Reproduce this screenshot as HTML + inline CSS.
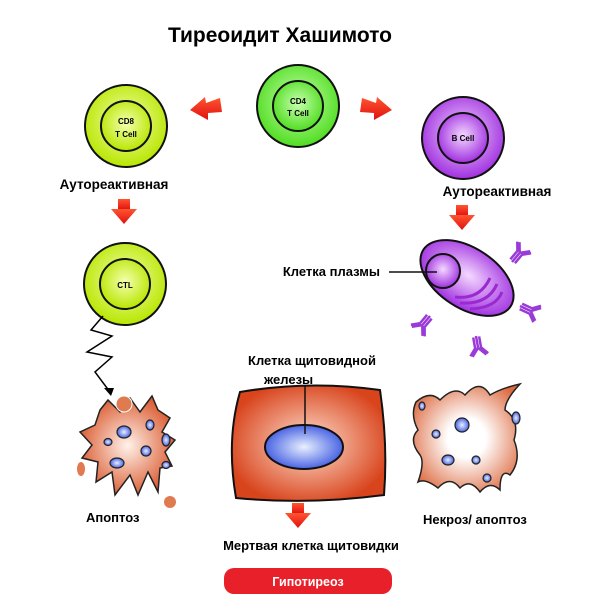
<!DOCTYPE html>
<html><head><meta charset="utf-8"><style>
body{margin:0;background:#fff}
svg{display:block}
text{font-family:"Liberation Sans","Noto Sans CJK SC",sans-serif;font-weight:bold}
</style></head><body>
<svg width="600" height="600" viewBox="0 0 600 600" xmlns="http://www.w3.org/2000/svg">
<defs>
<radialGradient id="yg" cx="50%" cy="45%" r="55%"><stop offset="0" stop-color="#f4ffb0"/><stop offset="1" stop-color="#b8e600"/></radialGradient>
<radialGradient id="gg" cx="50%" cy="45%" r="55%"><stop offset="0" stop-color="#c8ffb0"/><stop offset="1" stop-color="#50dd20"/></radialGradient>
<radialGradient id="pg" cx="50%" cy="45%" r="55%"><stop offset="0" stop-color="#f4d8ff"/><stop offset="1" stop-color="#a030e0"/></radialGradient>
<radialGradient id="og" cx="50%" cy="50%" r="55%"><stop offset="0" stop-color="#fff2ea"/><stop offset="1" stop-color="#d9552a"/></radialGradient>
<radialGradient id="og2" cx="50%" cy="50%" r="60%"><stop offset="0.3" stop-color="#fff"/><stop offset="1" stop-color="#dd6a40"/></radialGradient>
<radialGradient id="rg" cx="50%" cy="50%" r="55%"><stop offset="0" stop-color="#ffe0d0"/><stop offset="1" stop-color="#d8441c"/></radialGradient>
<radialGradient id="bg" cx="50%" cy="50%" r="55%"><stop offset="0" stop-color="#e8f0ff"/><stop offset="1" stop-color="#3a56e0"/></radialGradient>
<linearGradient id="ar" x1="0" y1="0" x2="0" y2="1"><stop offset="0" stop-color="#ff5530"/><stop offset="1" stop-color="#e01010"/></linearGradient>
<g id="down"><rect x="-6" y="0" width="12" height="11" fill="url(#ar)"/><polygon points="-13,10 13,10 0,25" fill="url(#ar)"/></g>
<g id="ab" stroke="#9a3ad8" stroke-width="2.5" fill="none"><path d="M0,0 L0,-12 L-7,-20 M0,-12 L7,-20 M-3,-1 L-3,-12 L-9,-19 M3,-1 L3,-12 L9,-19"/></g>
</defs>
<text x="280" y="42" font-size="21" text-anchor="middle" fill="#000">Тиреоидит Хашимото</text>

<circle cx="126" cy="126" r="41" fill="url(#yg)" stroke="#111" stroke-width="2"/>
<circle cx="126" cy="126" r="25" fill="url(#yg)" stroke="#111" stroke-width="2"/>
<text x="126" y="124" font-size="8" text-anchor="middle">CD8</text><text x="126" y="137" font-size="8" text-anchor="middle">T Cell</text>

<circle cx="298" cy="106" r="41" fill="url(#gg)" stroke="#111" stroke-width="2"/>
<circle cx="298" cy="106" r="25" fill="url(#gg)" stroke="#111" stroke-width="2"/>
<text x="298" y="104" font-size="8" text-anchor="middle">CD4</text><text x="298" y="116" font-size="8" text-anchor="middle">T Cell</text>

<circle cx="463" cy="138" r="41" fill="url(#pg)" stroke="#111" stroke-width="2"/>
<circle cx="463" cy="138" r="25" fill="url(#pg)" stroke="#111" stroke-width="2"/>
<text x="463" y="141" font-size="8" text-anchor="middle">B Cell</text>

<polygon points="220,98 222,112 208,113 208,120 190,110 205,97 206,103" fill="url(#ar)"/>
<polygon points="362,98 360,112 374,113 374,120 392,110 377,97 376,103" fill="url(#ar)"/>

<text x="114" y="189" font-size="13.5" text-anchor="middle">Аутореактивная</text>
<text x="497" y="196" font-size="13.5" text-anchor="middle">Аутореактивная</text>
<use href="#down" x="124" y="199"/>
<use href="#down" x="462" y="205"/>

<circle cx="125" cy="284" r="41" fill="url(#yg)" stroke="#111" stroke-width="2"/>
<circle cx="125" cy="284" r="25" fill="url(#yg)" stroke="#111" stroke-width="2"/>
<text x="125" y="288" font-size="8" text-anchor="middle">CTL</text>

<polyline points="103,316 91,330 112,336 87,352 112,357 95,372 110,392" fill="none" stroke="#000" stroke-width="1.5"/>
<polygon points="104,388 114,388 111,396" fill="#000"/>

<text x="380" y="276" font-size="13" text-anchor="end">Клетка плазмы</text>
<g transform="translate(467,278) rotate(33)"><ellipse cx="0" cy="0" rx="52" ry="30" fill="url(#pg)" stroke="#111" stroke-width="2"/></g>
<circle cx="443" cy="271" r="17" fill="url(#pg)" stroke="#111" stroke-width="2"/>
<line x1="389" y1="272" x2="437" y2="272" stroke="#111" stroke-width="1.5"/>
<path d="M455,297 Q480,300 490,278 M460,303 Q488,305 497,284 M470,309 Q496,308 502,292" stroke="#9a2ad0" stroke-width="3" fill="none"/>
<use href="#ab" transform="translate(512,262) rotate(40)"/>
<use href="#ab" transform="translate(520,306) rotate(115)"/>
<use href="#ab" transform="translate(476,336) rotate(170)"/>
<use href="#ab" transform="translate(430,316) rotate(-140)"/>

<path d="M100,410 L108,400 L120,412 L130,398 L140,412 L152,396 L158,410 L170,418 L162,432 L175,440 L165,452 L172,466 L160,468 L158,492 L148,472 L138,495 L130,475 L115,495 L112,472 L96,482 L98,462 L82,458 L92,445 L80,432 L95,425 Z" fill="url(#og)" stroke="#222" stroke-width="1.5"/>
<circle cx="124" cy="404" r="8" fill="#e07a50" stroke="#fff"/>
<circle cx="170" cy="502" r="6" fill="#e07a50"/>
<ellipse cx="81" cy="469" rx="4" ry="7" fill="#e07a50"/>
<g fill="url(#bg)" stroke="#222" stroke-width="1.2">
<ellipse cx="124" cy="432" rx="7" ry="6"/><ellipse cx="150" cy="425" rx="4" ry="5"/><ellipse cx="108" cy="442" rx="4" ry="3.5"/><ellipse cx="166" cy="440" rx="4" ry="6"/><ellipse cx="146" cy="451" rx="5" ry="5"/><ellipse cx="117" cy="463" rx="7" ry="5"/><ellipse cx="166" cy="465" rx="4" ry="3.5"/></g>
<text x="86" y="522" font-size="13">Апоптоз</text>

<path d="M240,392 Q310,380 380,390 Q388,445 384,495 Q310,505 236,498 Q226,440 240,392 Z" fill="url(#rg)" stroke="#111" stroke-width="2"/>
<ellipse cx="304" cy="447" rx="39" ry="22" fill="url(#bg)" stroke="#111" stroke-width="2"/>
<line x1="305" y1="386" x2="305" y2="434" stroke="#111" stroke-width="1.5"/>
<text x="312" y="365" font-size="13" text-anchor="middle">Клетка щитовидной</text>
<text x="264" y="384" font-size="13">железы</text>

<path d="M416,402 Q430,390 440,400 Q455,385 465,395 Q480,378 490,395 Q502,388 520,384 Q505,400 505,410 Q520,420 514,440 Q522,460 510,475 Q500,468 500,490 Q490,480 480,492 Q470,478 460,488 Q450,475 438,488 Q425,478 418,482 Q425,462 420,455 Q408,440 418,430 Q410,415 416,402 Z" fill="url(#og2)" stroke="#222" stroke-width="1.5"/>
<g fill="url(#bg)" stroke="#222" stroke-width="1.2">
<ellipse cx="462" cy="425" rx="7" ry="7"/><ellipse cx="436" cy="434" rx="4" ry="4"/><ellipse cx="476" cy="460" rx="4" ry="4"/><ellipse cx="448" cy="460" rx="6" ry="5"/><ellipse cx="487" cy="478" rx="4" ry="4"/><ellipse cx="516" cy="418" rx="4" ry="6"/><ellipse cx="422" cy="406" rx="3" ry="4"/></g>
<text x="423" y="524" font-size="13">Некроз/ апоптоз</text>

<use href="#down" x="298" y="503"/>
<text x="311" y="550" font-size="13" text-anchor="middle">Мертвая клетка щитовидки</text>
<rect x="224" y="568" width="168" height="26" rx="10" fill="#e8202a"/>
<text x="308" y="586" font-size="12.5" text-anchor="middle" fill="#fff">Гипотиреоз</text>
</svg>
</body></html>
